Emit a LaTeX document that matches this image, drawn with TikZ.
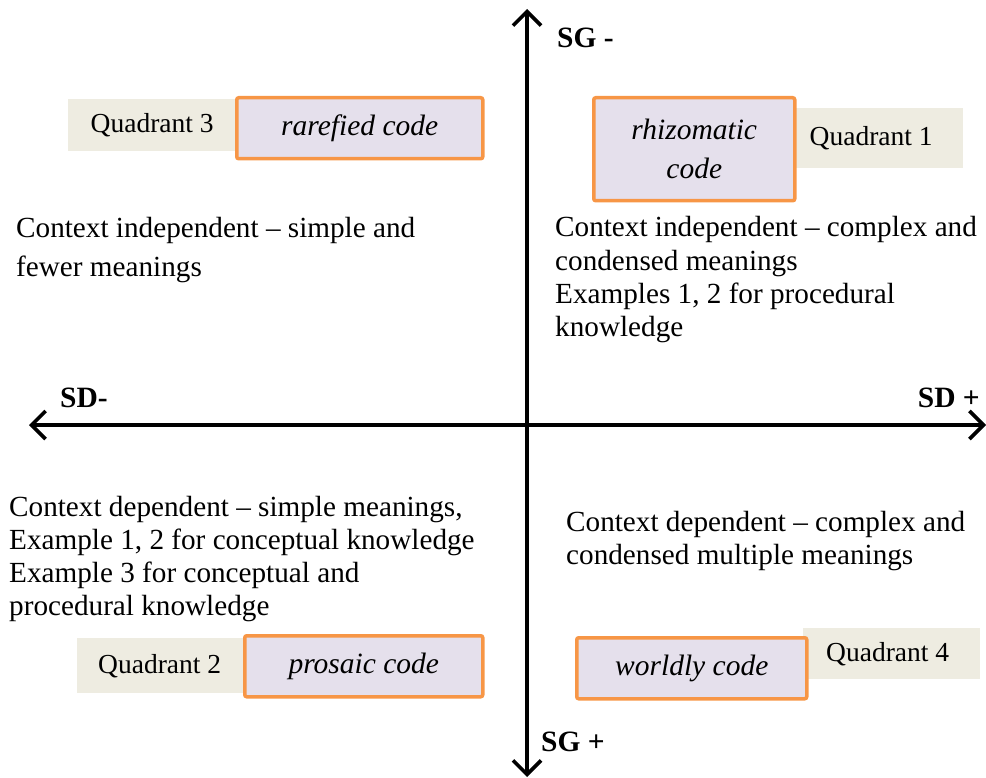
\documentclass[tikz,border=0pt]{standalone}
\usepackage{fontspec}
\setmainfont{Liberation Serif}
\usetikzlibrary{arrows.meta}
\definecolor{tagfill}{HTML}{EEECE1}
\definecolor{codefill}{HTML}{E5E0EC}
\definecolor{codeedge}{HTML}{F79646}
\tikzset{
  axis/.style={line width=3.6pt, {Straight Barb[length=14pt,width=28pt]}-{Straight Barb[length=14pt,width=28pt]}},
  tagbox/.style={fill=tagfill, draw=none, font=\fontsize{27.5}{30}\selectfont, inner sep=0pt},
  codebox/.style={fill=codefill, draw=codeedge, line width=3.5pt, rounded corners=2pt,
    font=\fontsize{29.5}{39}\selectfont\itshape, inner sep=0pt, align=center},
  axislabel/.style={font=\fontsize{29.5}{32}\selectfont\bfseries, inner sep=0pt},
  desc/.style={anchor=north west, inner sep=0pt, align=left},
}
\begin{document}
\begin{tikzpicture}[x=1pt,y=-1pt]
\useasboundingbox (0,0) rectangle (986,778);
% axes
\coordinate (top) at (527,9);
\coordinate (bottom) at (527,777);
\coordinate (left) at (29,425);
\coordinate (right) at (986,425);
\draw[axis] (left) -- (right);
\draw[axis] (bottom) -- (top);
\node[axislabel, anchor=west] (sgminus) at (557,38) {SG -};
\node[axislabel, anchor=west] (sgplus) at (541,742) {SG +};
\node[axislabel, anchor=west] (sdminus) at (60,398) {SD-};
\node[axislabel, anchor=east] (sdplus) at (980,398) {SD +};

% quadrant 3
\node[tagbox, minimum width=168pt, minimum height=52pt, anchor=north west] (q3) at (68,99) {Quadrant 3};
\node[codebox, minimum width=246pt, minimum height=61pt, anchor=north west] (rare) at (235,96) {rarefied code};
% quadrant 1
\node[tagbox, minimum width=170pt, minimum height=60pt, anchor=north west] (q1) at (793,108) {Quadrant 1\hspace*{14pt}};
\node[codebox, minimum width=201pt, minimum height=103pt, anchor=north west] (rhizo) at (592,96) {rhizomatic\\code};
% quadrant 2
\node[tagbox, minimum width=168pt, minimum height=55pt, anchor=north west] (q2) at (77,638) {Quadrant 2\hspace*{3pt}};
\node[codebox, minimum width=238pt, minimum height=61pt, anchor=north west] (prosaic) at (243,634) {prosaic code};
% quadrant 4
\node[tagbox, minimum width=177pt, minimum height=51pt, anchor=north west] (q4) at (803,628) {Quadrant 4\hspace*{8pt}};
\node[codebox, minimum width=230pt, minimum height=61pt, anchor=north west] (worldly) at (575,636) {worldly code};

% descriptions
\node[desc, font=\fontsize{29.2}{39}\selectfont] (d3) at (16,217.5)
  {Context independent -- simple and\\fewer meanings};
\node[desc, font=\fontsize{29.2}{33.3}\selectfont] (d1) at (555,216.5)
  {Context independent -- complex and\\condensed meanings\\Examples 1, 2 for procedural\\knowledge};
\node[desc, font=\fontsize{29.2}{33}\selectfont] (d2) at (9,496.5)
  {Context dependent -- simple meanings,\\Example 1, 2 for conceptual knowledge\\Example 3 for conceptual and\\procedural knowledge};
\node[desc, font=\fontsize{29.2}{33}\selectfont] (d4) at (566,511.5)
  {Context dependent -- complex and\\condensed multiple meanings};
\end{tikzpicture}
\end{document}
